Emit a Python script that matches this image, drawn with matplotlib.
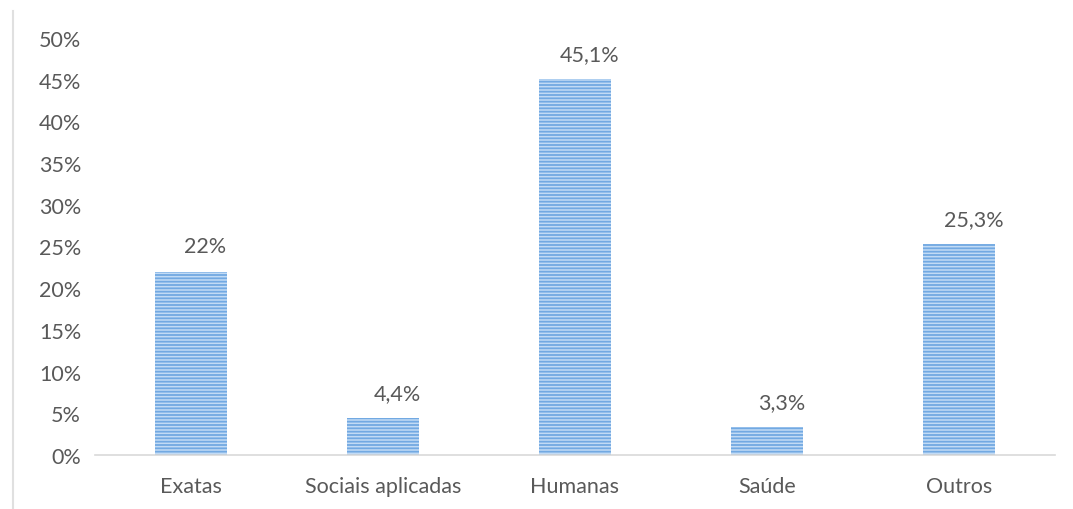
import matplotlib.pyplot as plt
import matplotlib as mpl

# Dados
categorias = ['Exatas', 'Sociais aplicadas', 'Humanas', 'Saúde', 'Outros']
valores = [22.0, 4.4, 45.1, 3.3, 25.3]
rotulos = ['22%', '4,4%', '45,1%', '3,3%', '25,3%']
ticks_y = [0, 5, 10, 15, 20, 25, 30, 35, 40, 45, 50]

mpl.rcParams['hatch.linewidth'] = 1.3
mpl.rcParams['font.family'] = ['Lato', 'DejaVu Sans']

fig = plt.figure(figsize=(10.73, 5.10), dpi=100)
ax = fig.add_axes([95 / 1073, 1 - 456 / 510, 960 / 1073, (456 - 39) / 510])

x = range(len(categorias))
ax.bar(x, valores, width=0.375, color='#c2dbf5', edgecolor='#72a9e2',
       hatch='-----', linewidth=0)

for xi, v, r in zip(x, valores, rotulos):
    ax.text(xi + 0.075, v + 3.0, r, ha='center', va='center',
            fontsize=15.5, color='#595959')

ax.set_xlim(-0.5, len(categorias) - 0.5)
ax.set_ylim(0, 50)
ax.set_yticks(ticks_y)
ax.set_yticklabels([f'{t}%' for t in ticks_y])
ax.set_xticks(list(x))
ax.set_xticklabels(categorias)
ax.tick_params(axis='both', length=0, labelsize=15.5, labelcolor='#595959')
ax.tick_params(axis='y', pad=10)
ax.tick_params(axis='x', pad=15)

for s in ['top', 'right', 'left']:
    ax.spines[s].set_visible(False)
ax.spines['bottom'].set_color('#d9d9d9')
ax.spines['bottom'].set_linewidth(1.2)

# moldura esquerda
fig.add_artist(plt.Line2D([13 / 1073, 13 / 1073], [0, 1 - 12 / 510],
                          color='#e0e0e0', linewidth=1.5))

fig.savefig('out.png', dpi=100)
